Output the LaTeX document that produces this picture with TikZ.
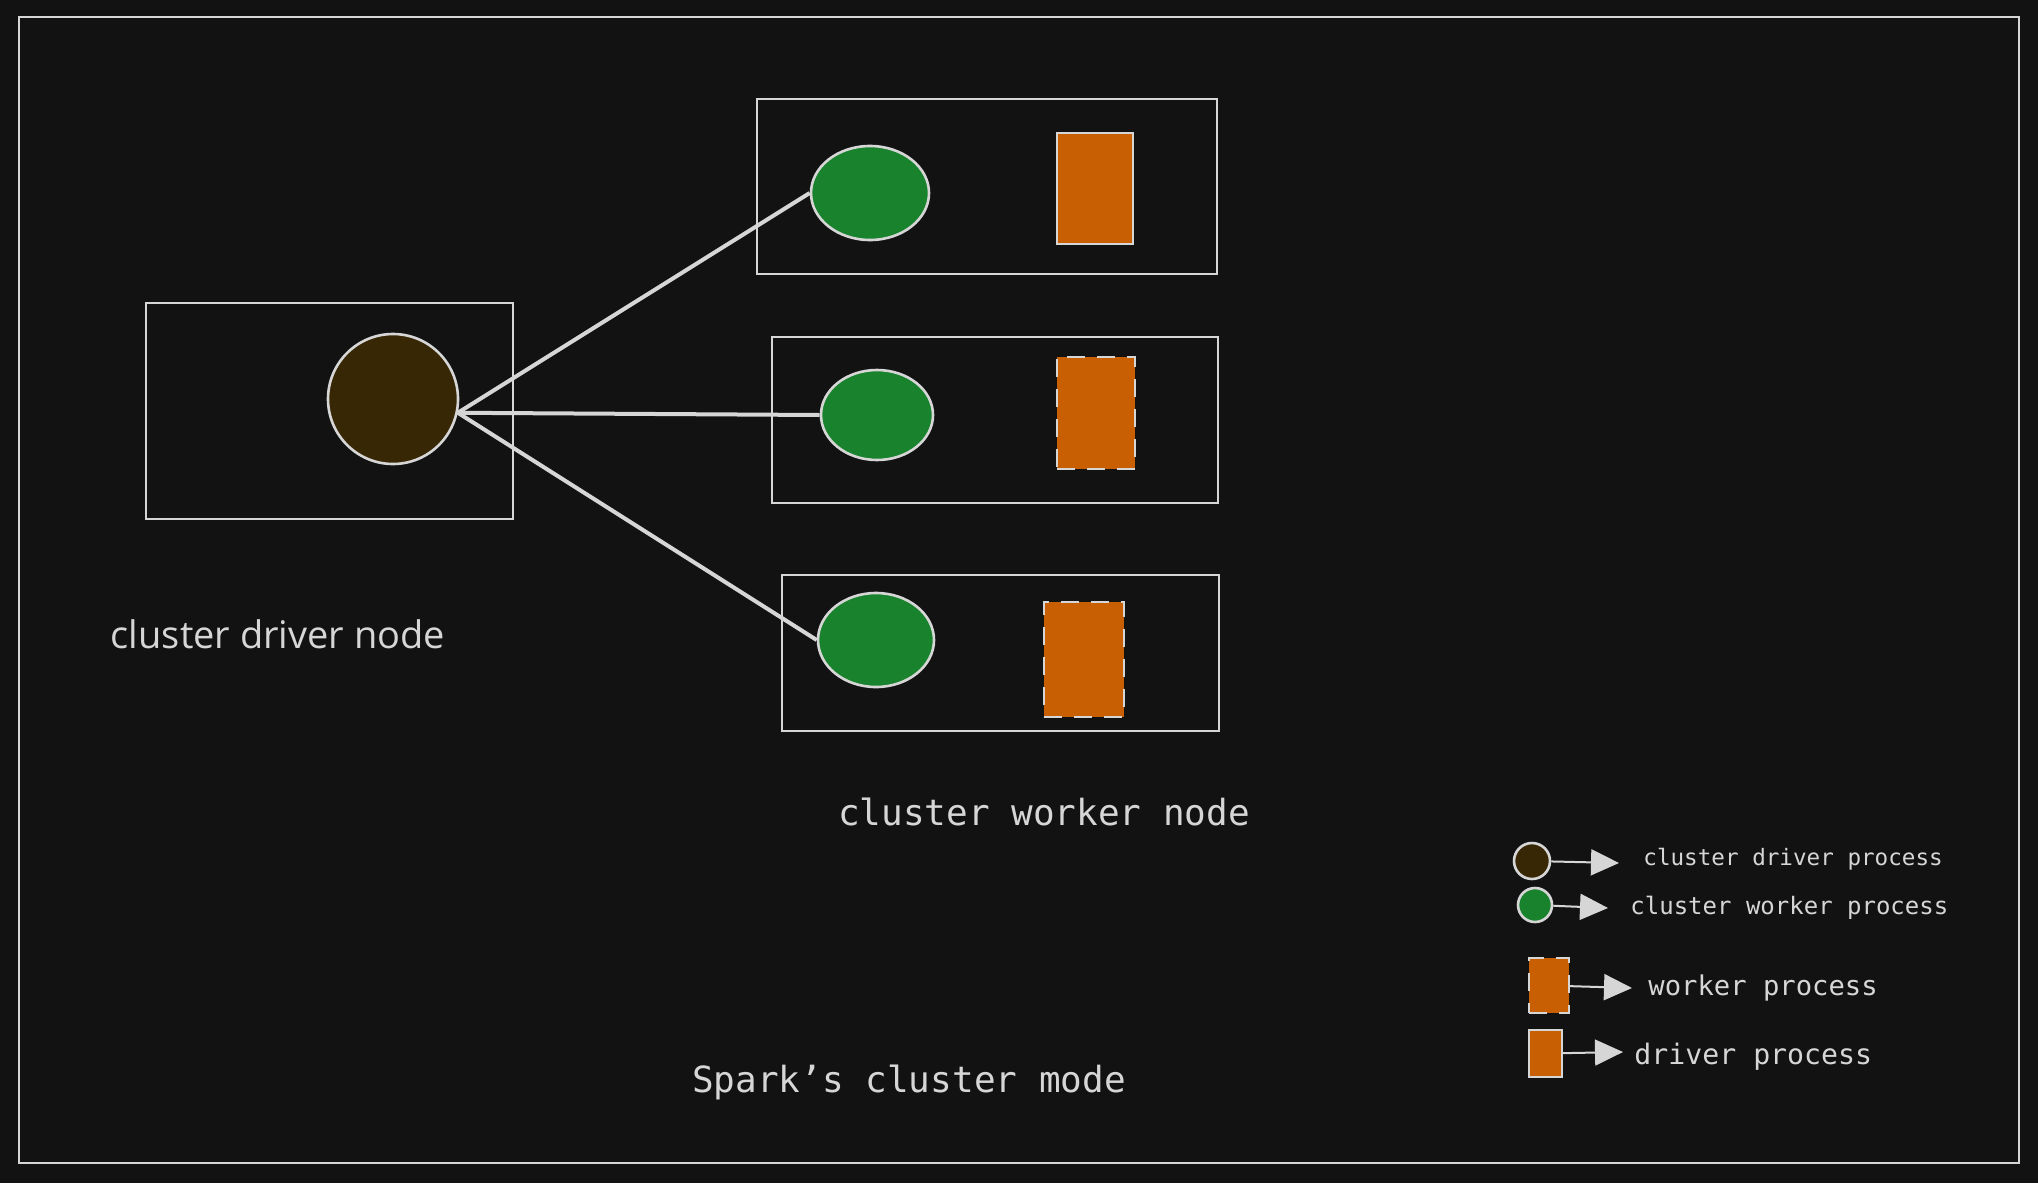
\documentclass[tikz,border=0pt]{standalone}
\usepackage{fontspec}
\setmainfont{Open Sans}
\setmonofont{DejaVu Sans Mono}
\usetikzlibrary{positioning,shapes.geometric,arrows.meta}
\definecolor{bgc}{HTML}{121212}
\definecolor{inkc}{HTML}{D6D6D6}
\definecolor{drvc}{HTML}{382705}
\definecolor{wrkc}{HTML}{18822C}
\definecolor{procc}{HTML}{C95F03}

\begin{document}
\begin{tikzpicture}[x=0.5pt, y=-0.5pt,
        boxnode/.style={draw=inkc,line width=1pt,rectangle,inner sep=0pt},
        drvnode/.style={draw=inkc,fill=drvc,circle,line width=1.3pt,inner sep=0pt},
        wrknode/.style={draw=inkc,fill=wrkc,ellipse,line width=1.3pt,inner sep=0pt},
        procnode/.style={draw=inkc,fill=procc,rectangle,line width=1.2pt,inner sep=0pt},
        wprocnode/.style={procnode,dash pattern=on 9pt off 6pt},
        link/.style={draw=inkc,line width=2pt},
        legarrow/.style={draw=inkc,line width=1pt,-{Triangle[length=14pt,width=13pt]}},
        captext/.style={text=inkc,inner sep=0pt},
        legtext/.style={text=inkc,inner sep=0pt,font=\ttfamily}
        ]
        %background and frame
        \fill[bgc] (0,0) rectangle (2038,1183);
        \useasboundingbox (0,0) rectangle (2038,1183);
        \draw[inkc,line width=1pt] (19,17) rectangle (2019,1163);

        % driver node
        \node[boxnode,minimum width=183.5pt,minimum height=108pt] (drvbox) at (329.5,411) {};
        \node[drvnode,minimum size=65pt] (drv) at (393,399) {};
        \node[captext,font=\fontsize{19}{22}\selectfont] (drvlabel) at (278,634) {cluster driver node};

        % worker nodes
        \node[boxnode,minimum width=230pt,minimum height=87.5pt] (wbox1) at (987,186.5) {};
        \node[wrknode,minimum width=59pt,minimum height=47pt] (w1) at (870,193) {};
        \node[procnode,minimum width=38pt,minimum height=55.5pt] (p1) at (1095,188.5) {};

        \node[boxnode,minimum width=223pt,minimum height=83pt] (wbox2) at (995,420) {};
        \node[wrknode,minimum width=56pt,minimum height=45pt] (w2) at (877,415) {};
        \node[wprocnode,minimum width=39pt,minimum height=56pt] (p2) at (1096,413) {};

        \node[boxnode,minimum width=218.5pt,minimum height=78pt] (wbox3) at (1000.5,653) {};
        \node[wrknode,minimum width=58pt,minimum height=47pt] (w3) at (876,640) {};
        \node[wprocnode,minimum width=40pt,minimum height=57.5pt] (p3) at (1084,659.5) {};

        \node[captext,font=\ttfamily\fontsize{18}{21}\selectfont] (wrklabel) at (1044,812) {cluster worker node};

        % links
        \draw[link] (drv.-12) -- (w1.west);
        \draw[link] (drv.-12) -- (w2.west);
        \draw[link] (drv.-12) -- (w3.west);

        % legend
        \node[drvnode,minimum size=18pt] (ldrv) at (1532,861) {};
        \coordinate (ldrvtip) at (1619,863);
        \draw[legarrow] (ldrv) -- (ldrvtip);
        \node[legtext,right=12pt of ldrvtip,yshift=2pt,font=\ttfamily\fontsize{11.3}{13}\selectfont] (ldrvtext) {cluster driver process};

        \node[wrknode,minimum size=17pt] (lwrk) at (1535,905) {};
        \coordinate (lwrktip) at (1608,908);
        \draw[legarrow] (lwrk) -- (lwrktip);
        \node[legtext,right=11pt of lwrktip,font=\ttfamily\fontsize{12}{14}\selectfont] (lwrktext) {cluster worker process};

        \node[wprocnode,minimum width=20pt,minimum height=27.5pt] (lwp) at (1549,985.5) {};
        \coordinate (lwptip) at (1632,988);
        \draw[legarrow] (lwp) -- (lwptip);
        \node[legtext,right=8pt of lwptip,font=\ttfamily\fontsize{13.6}{16}\selectfont] (lwptext) {worker process};

        \node[procnode,minimum width=16.5pt,minimum height=23.5pt] (ldp) at (1545.5,1053.5) {};
        \coordinate (ldptip) at (1623,1052);
        \draw[legarrow] (ldp) -- (ldptip);
        \node[legtext,right=5.5pt of ldptip,yshift=-2.5pt,font=\ttfamily\fontsize{14.1}{16}\selectfont] (ldptext) {driver process};

        \node[captext,font=\ttfamily\fontsize{18}{21}\selectfont] (title) at (909,1082) {Spark’s cluster mode};
      \end{tikzpicture}
\end{document}
